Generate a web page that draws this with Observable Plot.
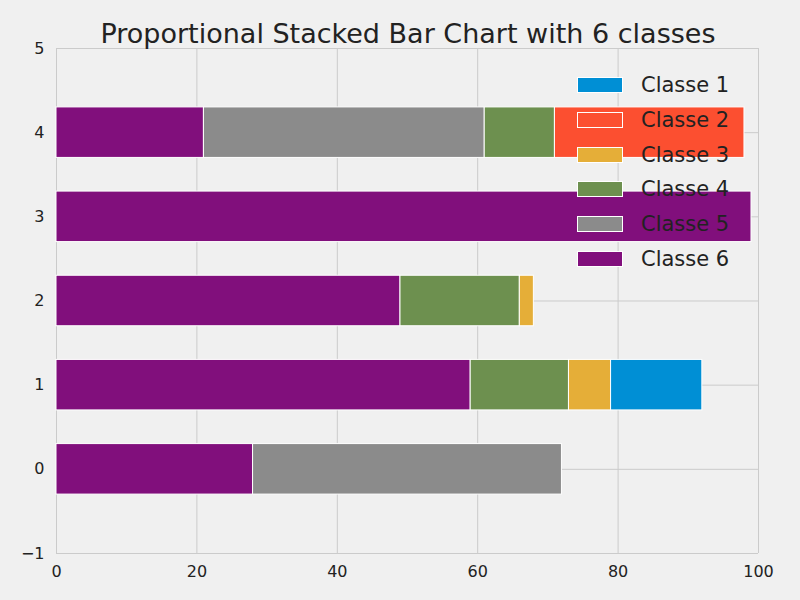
<!DOCTYPE html>
<html><head>
<script src="https://cdn.jsdelivr.net/npm/d3@7"></script>
<script src="https://cdn.jsdelivr.net/npm/@observablehq/plot@0.6"></script>
<style>
body{margin:0;background:#f0f0f0;font-family:"DejaVu Sans",sans-serif;}
#wrap{position:relative;width:800px;height:600px;}
#title{position:absolute;top:18px;left:0;width:816px;text-align:center;font-size:27px;color:#222;}
#legend{position:absolute;left:577px;top:68px;font-size:21px;color:#222;}
.row{height:34.7px;display:flex;align-items:center;}
.sw{width:46px;height:16px;margin-right:18px;border:1px solid #fff;box-sizing:border-box;}
</style>
</head><body>
<div id="wrap"><div id="chart"></div><div id="title">Proportional Stacked Bar Chart with 6 classes</div><div id="legend"></div></div>
<script>
var groups = [0, 1, 2, 3, 4];
var classes = ["Classe 1", "Classe 2", "Classe 3", "Classe 4", "Classe 5", "Classe 6"];
var colors = ["#008fd5", "#fc4f30", "#e5ae38", "#6d904f", "#8b8b8b", "#810f7c"];
// values per class, one per group
var classe1 = [0, 13, 0, 0, 0];
var classe2 = [0, 0, 0, 0, 27];
var classe3 = [0, 6, 2, 0, 0];
var classe4 = [0, 14, 17, 0, 10];
var classe5 = [44, 0, 0, 0, 40];
var classe6 = [28, 59, 49, 99, 21];
var series = [classe1, classe2, classe3, classe4, classe5, classe6];

// stack from Classe 6 outward
var rows = [];
groups.forEach((g, i) => {
  var start = 0;
  for (var c = 5; c >= 0; c--) {
    var v = series[c][i];
    if (v > 0) rows.push({g: g, cls: classes[c], x1: start, x2: start + v});
    start += v;
  }
});

var plot = Plot.plot({
  width: 800,
  height: 600,
  marginLeft: 56,
  marginRight: 42,
  marginTop: 48,
  marginBottom: 47,
  style: {background: "transparent", fontSize: "16px", fontFamily: "DejaVu Sans", color: "#222"},
  x: {domain: [0, 100], ticks: [0, 20, 40, 60, 80, 100], tickSize: 0, tickPadding: 12, label: null},
  y: {domain: [-1, 5], ticks: [-1, 0, 1, 2, 3, 4, 5], tickSize: 0, tickPadding: 12, label: null, tickFormat: d => d < 0 ? "\u22121" : d},
  color: {domain: classes, range: colors},
  marks: [
    Plot.gridX([0, 20, 40, 60, 80, 100], {stroke: "#cbcbcb", strokeOpacity: 1, strokeWidth: 1}),
    Plot.gridY([-1, 0, 1, 2, 3, 4, 5], {stroke: "#cbcbcb", strokeOpacity: 1, strokeWidth: 1}),
    Plot.rect(rows, {x1: "x1", x2: "x2", y1: d => d.g - 0.3, y2: d => d.g + 0.3, fill: "cls", stroke: "white", strokeWidth: 1})
  ]
});
document.getElementById("chart").append(plot);

var leg = document.getElementById("legend");
classes.forEach((c, i) => {
  var r = document.createElement("div");
  r.className = "row";
  r.innerHTML = '<div class="sw" style="background:' + colors[i] + '"></div>' + c;
  leg.append(r);
});
</script>
</body></html>
